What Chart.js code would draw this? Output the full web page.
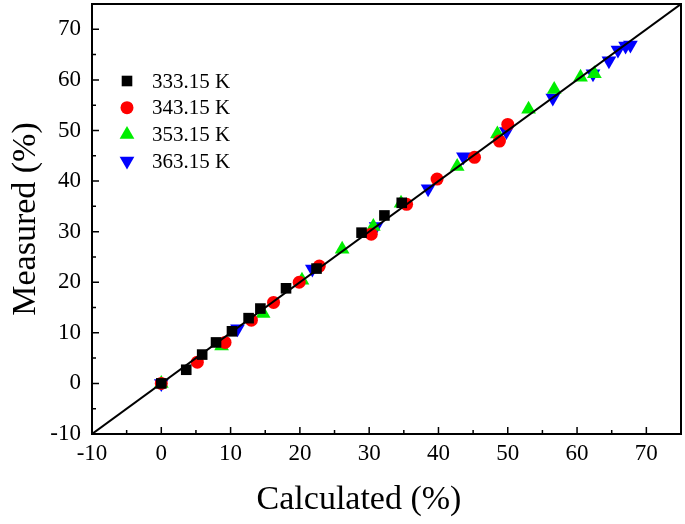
<!DOCTYPE html>
<html>
<head>
<meta charset="utf-8">
<script src="https://cdn.jsdelivr.net/npm/chart.js@4.4.1/dist/chart.umd.min.js"></script>
<style>
  html, body { margin: 0; padding: 0; background: #fff; }
  #wrap { width: 685px; height: 524px; }
</style>
</head>
<body>
<div id="wrap"><canvas id="parity"></canvas></div>
<script>
const seriesNames = ['333.15 K', '343.15 K', '353.15 K', '363.15 K'];

const calc333 = [0, 3.6, 5.9, 7.9, 10.2, 12.6, 14.3, 18.0, 22.4, 28.9, 32.2, 34.7];
const meas333 = [0, 2.7, 5.7, 8.1, 10.3, 12.9, 14.8, 18.8, 22.7, 29.8, 33.2, 35.7];

const calc343 = [0, 5.2, 9.2, 13.0, 16.2, 19.9, 22.8, 30.3, 35.4, 39.8, 45.2, 48.8, 50.0];
const meas343 = [0, 4.2, 8.1, 12.5, 16.0, 20.0, 23.2, 29.5, 35.4, 40.4, 44.7, 47.9, 51.2];

const calc353 = [0, 8.7, 14.7, 20.3, 26.1, 30.6, 34.6, 42.7, 48.5, 53.0, 56.7, 60.5, 62.5];
const meas353 = [0, 7.4, 13.8, 20.4, 26.5, 31.0, 35.6, 42.9, 49.3, 54.2, 58.1, 60.5, 61.2];

const calc363 = [0, 11.0, 21.8, 31.0, 38.5, 43.6, 49.8, 56.5, 62.3, 64.6, 65.9, 67.0, 67.7];
const meas363 = [0, 10.8, 22.6, 31.0, 38.5, 44.8, 49.8, 56.4, 61.2, 63.8, 65.9, 66.7, 66.9];

const diagLine = [-10, 75];
const tickValues = [-10, 0, 10, 20, 30, 40, 50, 60, 70];
const minorValues = [-5, 5, 15, 25, 35, 45, 55, 65, 75];

const serif = "'Liberation Serif', 'Times New Roman', serif";

function pairs(xs, ys) {
    return xs.map((x, i) => ({ x: x, y: ys[i] }));
}

const markers = [
    { style: 'rect', color: '#000000', radius: 7.5 },
    { style: 'circle', color: '#ff0000', radius: 6.5 },
    { style: 'triangle', color: '#00ee00', radius: 8.5, rotation: 0 },
    { style: 'triangle', color: '#0000ff', radius: 8.5, rotation: 180 }
];

const pointSets = [
    pairs(calc333, meas333),
    pairs(calc343, meas343),
    pairs(calc353, meas353),
    pairs(calc363, meas363)
];

const datasets = [{
    label: 'y = x',
    data: pairs(diagLine, diagLine),
    showLine: true,
    borderColor: '#000',
    borderWidth: 2,
    pointRadius: 0
}];
pointSets.forEach((d, i) => {
    const m = markers[i];
    datasets.push({
        label: seriesNames[i],
        data: d,
        pointStyle: m.style,
        pointRotation: m.rotation || 0,
        pointRadius: m.radius,
        pointHoverRadius: m.radius,
        backgroundColor: m.color,
        borderColor: m.color,
        borderWidth: 0
    });
});

// frame, inward ticks, x title (sits left of centre) and the inset legend
const framePlugin = {
    id: 'frame',
    afterDraw(chart) {
        const ctx = chart.ctx;
        const a = chart.chartArea;
        const xs = chart.scales.x, ys = chart.scales.y;
        ctx.save();
        ctx.strokeStyle = '#000';
        ctx.lineWidth = 2;
        ctx.strokeRect(a.left, a.top, a.right - a.left, a.bottom - a.top);

        ctx.lineWidth = 1.5;
        ctx.beginPath();
        tickValues.forEach(v => {
            const px = xs.getPixelForValue(v);
            ctx.moveTo(px, a.bottom); ctx.lineTo(px, a.bottom - 7);
            const py = ys.getPixelForValue(v);
            ctx.moveTo(a.left, py); ctx.lineTo(a.left + 7, py);
        });
        minorValues.forEach(v => {
            const px = xs.getPixelForValue(v);
            ctx.moveTo(px, a.bottom); ctx.lineTo(px, a.bottom - 4);
            const py = ys.getPixelForValue(v);
            ctx.moveTo(a.left, py); ctx.lineTo(a.left + 4, py);
        });
        ctx.stroke();

        ctx.fillStyle = '#000';
        ctx.font = '34px ' + serif;
        ctx.textAlign = 'center';
        ctx.textBaseline = 'middle';
        ctx.fillText('Calculated (%)', 359, 500);

        // legend
        ctx.font = '21px ' + serif;
        ctx.textAlign = 'left';
        seriesNames.forEach((name, i) => {
            const m = markers[i];
            const y = 81 + i * 26.7;
            ctx.fillStyle = m.color;
            ctx.strokeStyle = m.color;
            Chart.helpers.drawPoint(ctx, {
                pointStyle: m.style,
                rotation: m.rotation || 0,
                radius: m.radius,
                borderWidth: 0
            }, 127, y);
            ctx.fillStyle = '#000';
            ctx.fillText(name, 152, y + 1);
        });
        ctx.restore();
    }
};

new Chart(document.getElementById('parity'), {
    type: 'scatter',
    data: { datasets: datasets },
    options: {
        responsive: true,
        maintainAspectRatio: false,
        animation: false,
        layout: { autoPadding: false, padding: { top: 4, right: 4, left: 0, bottom: 0 } },
        plugins: {
            legend: { display: false },
            tooltip: { enabled: false }
        },
        scales: {
            x: {
                type: 'linear',
                min: -10,
                max: 75,
                afterBuildTicks: s => { s.ticks = tickValues.map(v => ({ value: v })); },
                afterFit: s => { s.height = 90; s.paddingLeft = 0; s.paddingRight = 0; },
                grid: { display: false, drawTicks: false },
                border: { display: false },
                ticks: { color: '#000', font: { family: serif, size: 23 }, padding: 6 },
                title: { display: false }
            },
            y: {
                type: 'linear',
                min: -10,
                max: 75,
                afterBuildTicks: s => { s.ticks = tickValues.map(v => ({ value: v })); },
                afterFit: s => { s.width = 92; s.paddingTop = 0; s.paddingBottom = 0; },
                grid: { display: false, drawTicks: false },
                border: { display: false },
                ticks: { color: '#000', font: { family: serif, size: 23 }, padding: 11 },
                title: {
                    display: true,
                    text: 'Measured (%)',
                    color: '#000',
                    font: { family: serif, size: 34 },
                    padding: { top: 6, bottom: 0 }
                }
            }
        }
    },
    plugins: [framePlugin]
});
</script>
</body>
</html>
